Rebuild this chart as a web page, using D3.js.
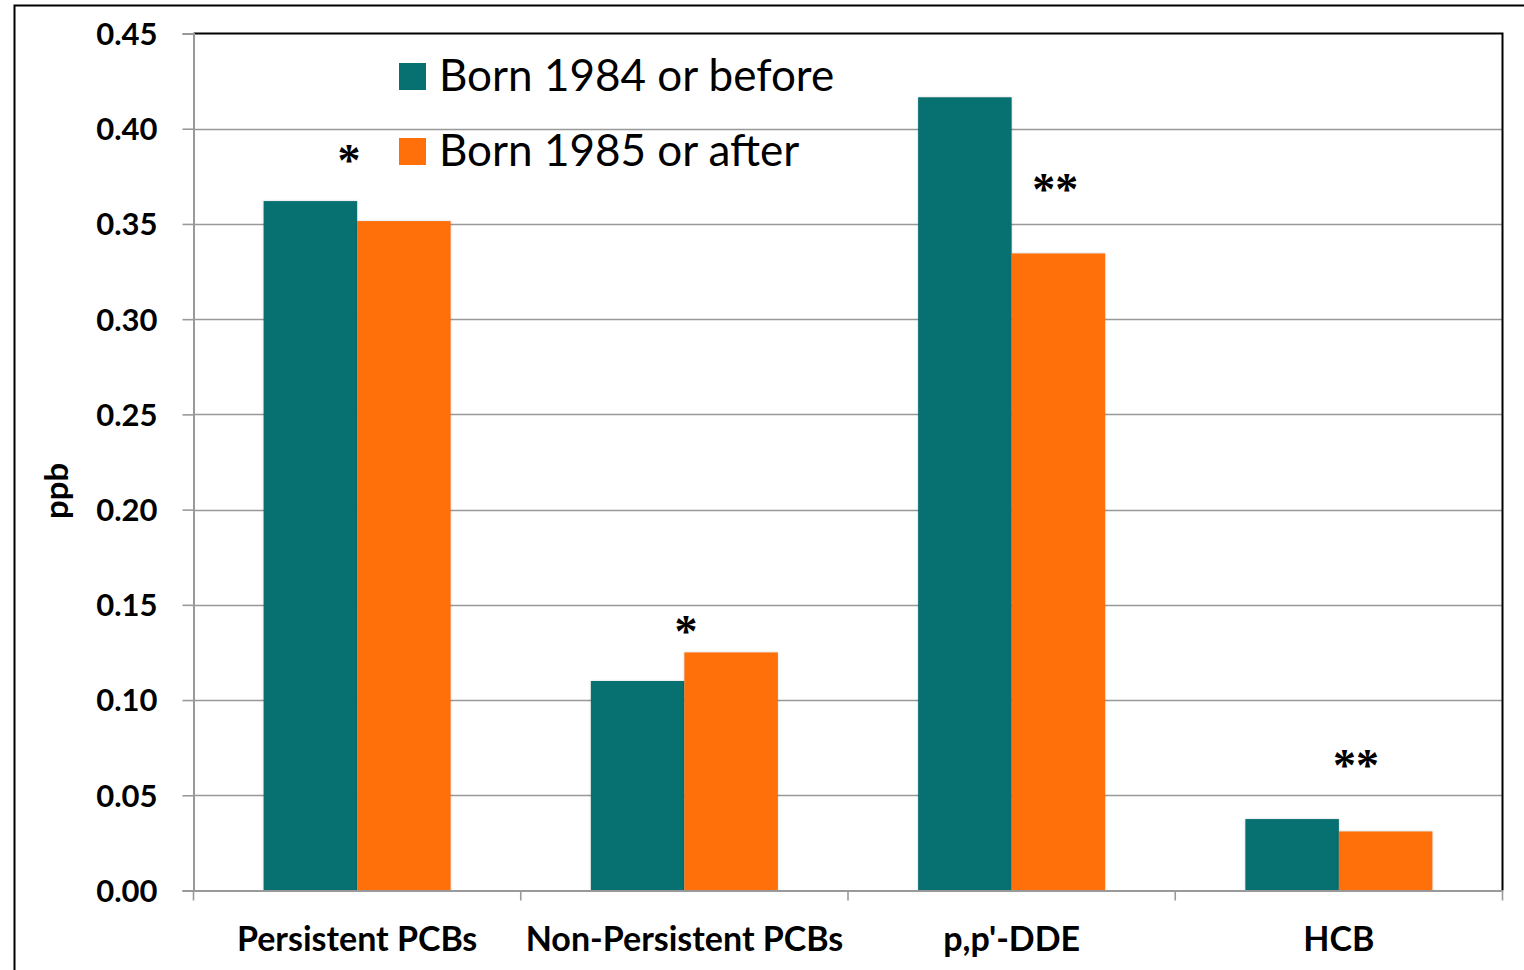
<!DOCTYPE html>
<html>
<head>
<meta charset="utf-8">
<script src="https://cdn.jsdelivr.net/npm/d3@7/dist/d3.min.js"></script>
<style>
  html, body { margin: 0; padding: 0; background: #fff; }
  svg { display: block; }
</style>
</head>
<body>
<svg id="chart" width="1524" height="970"></svg>
<script>
// Analyte groups along the x axis
const categories = ["Persistent PCBs", "Non-Persistent PCBs", "p,p'-DDE", "HCB"];
// Birth cohorts
const seriesNames = ["Born 1984 or before", "Born 1985 or after"];
// Concentrations (ppb) per cohort
const bornBefore1985 = [0.362, 0.110, 0.4165, 0.0375];
const born1985After = [0.3515, 0.125, 0.3345, 0.031];
// Significance markers placed above each group
const significance = ["*", "*", "**", "**"];
// Y-axis ticks
const yTicks = [0, 0.05, 0.10, 0.15, 0.20, 0.25, 0.30, 0.35, 0.40, 0.45];

const colors = ["#077070", "#FF700A"];
const seriesValues = [bornBefore1985, born1985After];

const svg = d3.select("#chart");
const plot = { left: 193.5, right: 1502.5, top: 33.5, bottom: 890.5 };
const fontSans = "Lato, 'Open Sans', sans-serif";

// Outer chart frame (top and left edges visible)
svg.append("path")
  .attr("d", `M1524,5.5 H14.5 V970`)
  .attr("fill", "none").attr("stroke", "#000").attr("stroke-width", 2);

const x = d3.scaleBand().domain(categories).range([plot.left, plot.right]);
const y = d3.scaleLinear().domain([0, 0.45]).range([plot.bottom, plot.top]);

// Gridlines
svg.append("g").selectAll("line").data(yTicks.filter(d => d > 0 && d < 0.45)).join("line")
  .attr("x1", plot.left).attr("x2", plot.right)
  .attr("y1", d => Math.round(y(d)) + 0.5).attr("y2", d => Math.round(y(d)) + 0.5)
  .attr("stroke", "#999").attr("stroke-width", 1.6);

// Plot area top and right border
svg.append("path")
  .attr("d", `M${plot.left},${plot.top} H${plot.right} V${plot.bottom}`)
  .attr("fill", "none").attr("stroke", "#000").attr("stroke-width", 2);

// Soft shadow under the bars
const defs = svg.append("defs");
const f = defs.append("filter").attr("id", "shadow")
  .attr("x", "-10%").attr("y", "-10%").attr("width", "120%").attr("height", "120%")
  .attr("color-interpolation-filters", "sRGB");
f.append("feDropShadow").attr("dx", 0).attr("dy", 0).attr("stdDeviation", 1.2)
  .attr("flood-color", "#000").attr("flood-opacity", 0.2);

const groupWidth = x.bandwidth() / 1.75; // two bars, 75% gap width
const barWidth = groupWidth / 2;
const xs = d3.scaleBand().domain(d3.range(seriesNames.length)).range([0, groupWidth]);

const rows = [];
categories.forEach((c, i) => {
  seriesValues.forEach((vals, s) => rows.push({ c, s, v: vals[i] }));
});

svg.append("g").selectAll("rect").data(rows).join("rect")
  .attr("x", d => x(d.c) + (x.bandwidth() - groupWidth) / 2 + xs(d.s))
  .attr("width", barWidth)
  .attr("y", d => y(d.v))
  .attr("height", d => y(0) - y(d.v))
  .attr("fill", d => colors[d.s])
  .attr("filter", "url(#shadow)");

// Y axis
const yAxis = svg.append("g").attr("transform", `translate(${plot.left},0)`)
  .call(d3.axisLeft(y).tickValues(yTicks).tickFormat(d3.format(".2f")).tickSize(11).tickPadding(25));
yAxis.select(".domain").attr("stroke", "#999").attr("stroke-width", 2);
yAxis.selectAll(".tick line").attr("stroke", "#999").attr("stroke-width", 1.6);
yAxis.selectAll(".tick text")
  .attr("font-family", fontSans).attr("font-weight", "bold").attr("font-size", 31).attr("fill", "#000")
  .attr("dy", "0.35em");

// X axis
const xAxis = svg.append("g").attr("transform", `translate(0,${plot.bottom})`)
  .call(d3.axisBottom(x).tickSize(0).tickPadding(36));
xAxis.select(".domain").attr("stroke", "#999").attr("stroke-width", 2);
xAxis.selectAll(".tick text")
  .attr("font-family", fontSans).attr("font-weight", "bold").attr("font-size", 34).attr("fill", "#000");
// Category separator ticks
svg.append("g").selectAll("line")
  .data(categories.map(c => x(c)).concat([x(categories[categories.length - 1]) + x.bandwidth()]))
  .join("line")
  .attr("x1", d => d).attr("x2", d => d)
  .attr("y1", plot.bottom).attr("y2", plot.bottom + 10)
  .attr("stroke", "#999").attr("stroke-width", 1.6);

// Y axis title
svg.append("text")
  .attr("transform", `translate(68,491) rotate(-90)`)
  .attr("text-anchor", "middle")
  .attr("font-family", fontSans).attr("font-weight", "bold").attr("font-size", 33)
  .text("ppb");

// Significance markers: offset within the group (fraction of band) and baseline value
const markerPlacement = [
  { dx: -0.025, v: 0.375 },
  { dx: 0.005, v: 0.1276 },
  { dx: 0.133, v: 0.3602 },
  { dx: 0.052, v: 0.0575 }
];
svg.append("g").selectAll("text").data(categories).join("text")
  .attr("x", (c, i) => x(c) + x.bandwidth() * (0.5 + markerPlacement[i].dx))
  .attr("y", (c, i) => y(markerPlacement[i].v))
  .attr("text-anchor", "middle")
  .attr("font-family", "'Liberation Serif', serif")
  .attr("font-weight", "bold")
  .attr("font-size", 46)
  .text((c, i) => significance[i]);

// Legend
const legend = svg.append("g").attr("transform", "translate(399,63)");
seriesNames.forEach((name, i) => {
  const g = legend.append("g").attr("transform", `translate(0,${i * 75})`);
  g.append("rect").attr("width", 27).attr("height", 27).attr("fill", colors[i]);
  g.append("text").attr("x", 40).attr("y", 28)
    .attr("font-family", fontSans).attr("font-size", 44).attr("fill", "#000")
    .text(name);
});
</script>
</body>
</html>
